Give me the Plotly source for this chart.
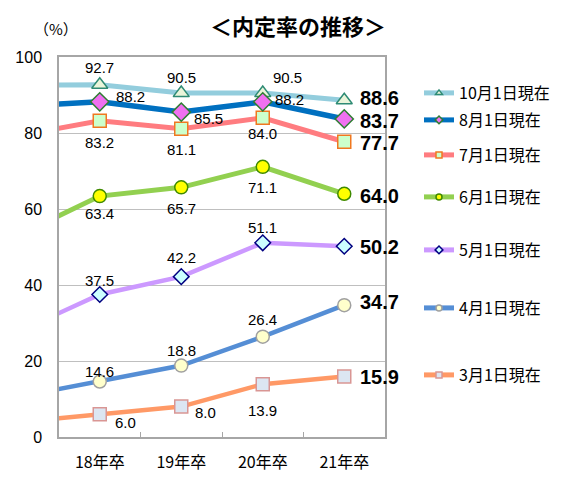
import plotly.graph_objects as go

# categories; 17年卒 is only there for the stub of line that enters from the left edge
years = ["17年卒", "18年卒", "19年卒", "20年卒", "21年卒"]
y_ticks = [0, 20, 40, 60, 80, 100]

oct1 = [92.5, 92.7, 90.5, 90.5, 88.6]
aug1 = [87.0, 88.2, 85.5, 88.2, 83.7]
jul1 = [79.3, 83.2, 81.1, 84.0, 77.7]
jun1 = [53.1, 63.4, 65.7, 71.1, 64.0]
may1 = [27.7, 37.5, 42.2, 51.1, 50.2]
apr1 = [10.6, 14.6, 18.8, 26.4, 34.7]
mar1 = [3.9, 6.0, 8.0, 13.9, 15.9]

names = ["10月1日現在", "8月1日現在", "7月1日現在", "6月1日現在", "5月1日現在", "4月1日現在", "3月1日現在"]
values = [oct1, aug1, jul1, jun1, may1, apr1, mar1]

# style per series: line colour/width, marker symbol/fill/outline/size,
# pixel offsets (dx, dy screen-down) of the 18-20 labels, dy of the big 21 label, legend row y (px)
STYLES = [
    dict(c="#93CDDD", w=5, sym="triangle-up", fill="#EAF5DA", edge="#2E8B74", s=14,
         offs=[(0, -17), (0, -16), (25, -16)], big=-2, ly=93),
    dict(c="#0070C0", w=5.5, sym="diamond", fill="#F070F0", edge="#2E7D32", s=14,
         offs=[(31, -5), (27, 6), (27, -2)], big=2, ly=120),
    dict(c="#FF7C80", w=5, sym="square", fill="#CCFFCC", edge="#F07820", s=13,
         offs=[(0, 22), (0, 21), (0, 16)], big=1, ly=155),
    dict(c="#92D050", w=5, sym="circle", fill="#FFFF00", edge="#3F8A00", s=13,
         offs=[(0, 17), (0, 21), (0, 21)], big=2, ly=197),
    dict(c="#CC99FF", w=4.5, sym="diamond", fill="#CCFFFF", edge="#000080", s=12,
         offs=[(0, -14), (0, -19), (0, -15)], big=1, ly=250),
    dict(c="#558ED5", w=4.5, sym="circle", fill="#FFFFCC", edge="#A0A0A0", s=13,
         offs=[(0, -10), (0, -15), (0, -17)], big=-3, ly=308),
    dict(c="#FF9966", w=4.5, sym="square", fill="#DCE6F2", edge="#D99694", s=13,
         offs=[(26, 8), (24, 6), (0, 26)], big=0, ly=375),
]

PLOT_TOP, PLOT_BOTTOM, PLOT_LEFT, PLOT_RIGHT = 57, 437, 59, 385
W, H = 583, 477
LABEL_FONT = "Liberation Sans, Noto Sans CJK JP, sans-serif"
CJK_FONT = "Noto Sans CJK JP, sans-serif"


def px_x(px):
    return (px - PLOT_LEFT) / (PLOT_RIGHT - PLOT_LEFT)


def px_y(px):
    return (PLOT_BOTTOM - px) / (PLOT_BOTTOM - PLOT_TOP)


fig = go.Figure()
annotations = []
layout_legends = {}
draw_order = [6, 5, 4, 3, 2, 0, 1]
for i in draw_order:
    st = STYLES[i]
    fig.add_trace(go.Scatter(
        x=years, y=values[i], mode="lines+markers", name=names[i], showlegend=False,
        line=dict(color=st["c"], width=st["w"]),
        marker=dict(symbol=st["sym"], size=st["s"], color=st["fill"], line=dict(color=st["edge"], width=1.5)),
    ))
for i, st in enumerate(STYLES):
    key = "legend" if i == 0 else f"legend{i + 1}"
    fig.add_trace(go.Scatter(
        x=[None], y=[None], mode="lines+markers", name=names[i], legend=key,
        line=dict(color=st["c"], width=5),
        marker=dict(symbol=st["sym"], size=6, color=st["fill"], line=dict(color=st["edge"], width=1.5)),
    ))
    layout_legends[key] = dict(
        x=px_x(419), y=px_y(st["ly"]),
        xanchor="left", yanchor="middle", bgcolor="rgba(0,0,0,0)",
        font=dict(family=CJK_FONT, size=16, color="#000000"),
        itemsizing="trace", borderwidth=0,
    )
    # small value labels for 18-20, big bold one for 21
    for j, (dx, dy) in enumerate(st["offs"], start=1):
        annotations.append(dict(
            x=years[j], y=values[i][j], text=f"{values[i][j]:.1f}", showarrow=False,
            xshift=dx, yshift=-dy, font=dict(family=LABEL_FONT, size=15, color="#000000"),
        ))
    annotations.append(dict(
        x=years[4], y=values[i][4], text=f"<b>{values[i][4]:.1f}</b>", showarrow=False,
        xanchor="left", xshift=14, yshift=-st["big"],
        font=dict(family=LABEL_FONT, size=20, color="#000000"),
    ))

annotations.append(dict(
    x=px_x(298), y=px_y(25), xref="paper", yref="paper", xanchor="center", yanchor="middle",
    text="<b>＜内定率の推移＞</b>", showarrow=False,
    font=dict(family=CJK_FONT, size=22, color="#000000"),
))
annotations.append(dict(
    x=px_x(56), y=px_y(29), xref="paper", yref="paper", xanchor="center", yanchor="middle",
    text="（%）", showarrow=False, font=dict(family=CJK_FONT, size=15, color="#000000"),
))

fig.update_layout(
    width=W, height=H,
    margin=dict(l=PLOT_LEFT, r=W - PLOT_RIGHT, t=PLOT_TOP, b=H - PLOT_BOTTOM, autoexpand=False),
    paper_bgcolor="white", plot_bgcolor="white",
    annotations=annotations,
    **layout_legends,
)
fig.update_xaxes(
    type="category", categoryorder="array", categoryarray=years, range=[0.5, 4.5],
    tickson="boundaries", ticks="inside", ticklen=5, tickcolor="#A6A6A6",
    showline=True, mirror=True, linecolor="#A6A6A6", linewidth=1.5, showgrid=False,
    tickfont=dict(family=CJK_FONT, size=16, color="#000000"), ticklabelstandoff=10,
)
fig.update_yaxes(
    range=[0, 100], tickvals=y_ticks, showline=True, mirror=True, linecolor="#A6A6A6", linewidth=1.5,
    gridcolor="#BFBFBF", gridwidth=1, zeroline=False, ticks="",
    tickfont=dict(family=LABEL_FONT, size=16, color="#000000"), ticklabelstandoff=12,
)

# drop the browser's default 8px body margin so the figure sits at the page corner
fig.write_html("out.html", config={"displayModeBar": False},
               post_script="document.body.style.margin = '0';")
